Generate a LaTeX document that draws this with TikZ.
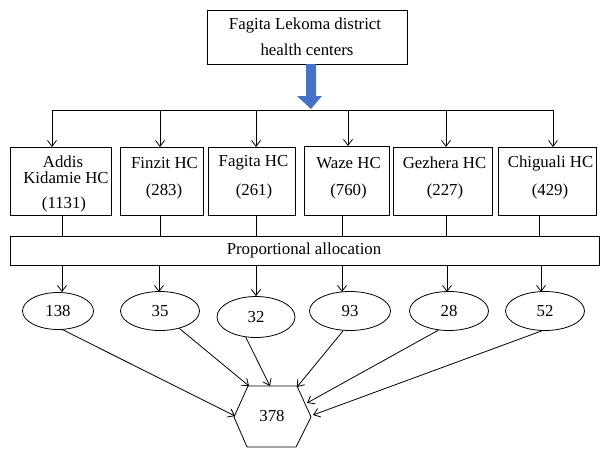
\documentclass[tikz,border=0pt]{standalone}
\usepackage{fontspec}
\setmainfont{Liberation Serif}
\usetikzlibrary{arrows.meta,shapes.geometric,calc}
\definecolor{arrowblue}{HTML}{4472C4}
\tikzset{
  box/.style={draw, line width=0.9pt, inner sep=0pt, anchor=north west},
  lbl/.style={inner sep=0pt, font=\fontsize{16.8}{19}\selectfont},
  ell/.style={draw, ellipse, line width=0.8pt, inner sep=0pt, font=\fontsize{16.8}{19}\selectfont},
  conn/.style={line width=0.8pt},
  arr/.style={line width=0.8pt, -{Straight Barb[length=6pt,width=9pt]}},
}
\begin{document}
\begin{tikzpicture}[x=1pt,y=-1pt]
\useasboundingbox (0,0) rectangle (610,458);
% top box
\node[box, minimum width=200pt, minimum height=54pt] (top) at (207,10) {};
\node[lbl] (topt1) at (305,25) {Fagita Lekoma district};
\node[lbl] (topt2) at (307,50) {health centers};
% blue arrow
\fill[arrowblue] (306,64) -- (316,64) -- (316,96) -- (322,96) -- (311,109) -- (297,96) -- (306,96) -- cycle;
% bus
\coordinate (busL) at (52,110);
\coordinate (busR) at (553,110);
\coordinate (bus2) at (160,110);
\coordinate (bus3) at (256,110);
\coordinate (bus4) at (348,110);
\coordinate (bus5) at (446,110);
\draw[conn] (busL) -- (busR);
% boxes
\node[box, minimum width=101pt, minimum height=68pt] (b1) at (10,147) {};
\node[box, minimum width=83pt, minimum height=68pt] (b2) at (120,147) {};
\node[box, minimum width=87pt, minimum height=68pt] (b3) at (208,147) {};
\node[box, minimum width=85pt, minimum height=69pt] (b4) at (304,146) {};
\node[box, minimum width=99pt, minimum height=68pt] (b5) at (393,147) {};
\node[box, minimum width=98pt, minimum height=68pt] (b6) at (498,147) {};
% box texts
\node[lbl] (b1a) at (63,162) {Addis};
\node[lbl] (b1b) at (66,178) {Kidamie HC};
\node[lbl] (b1c) at (64,204) {(1131)};
\node[lbl] (b2a) at (164.5,163) {Finzit HC};
\node[lbl] (b2b) at (164,191) {(283)};
\node[lbl] (b3a) at (253.5,163) {Fagita HC};
\node[lbl] (b3b) at (254,191) {(261)};
\node[lbl] (b4a) at (348.5,163) {Waze HC};
\node[lbl] (b4b) at (348.5,191) {(760)};
\node[lbl] (b5a) at (444.5,163) {Gezhera HC};
\node[lbl] (b5b) at (445,191) {(227)};
\node[lbl] (b6a) at (550.5,163) {Chiguali HC};
\node[lbl] (b6b) at (550,191) {(429)};
% arrows from bus to boxes
\draw[arr] (busL) -- (busL |- b1.north);
\draw[arr] (bus2) -- (bus2 |- b2.north);
\draw[arr] (bus3) -- (bus3 |- b3.north);
\draw[arr] (bus4) -- (bus4 |- b4.north);
\draw[arr] (bus5) -- (bus5 |- b5.north);
\draw[arr] (busR) -- (busR |- b6.north);
% proportional allocation
\node[box, minimum width=589pt, minimum height=29pt] (pa) at (10,236) {};
\node[lbl] (pat) at (304,250) {Proportional allocation};
% connectors boxes to pa
\draw[conn] (b1.south -| 62,0) -- (pa.north -| 62,0);
\draw[conn] (b2.south -| 160,0) -- (pa.north -| 160,0);
\draw[conn] (b3.south -| 256,0) -- (pa.north -| 256,0);
\draw[conn] (b4.south -| 342,0) -- (pa.north -| 342,0);
\draw[conn] (b5.south -| 446,0) -- (pa.north -| 446,0);
\draw[conn] (b6.south -| 539,0) -- (pa.north -| 539,0);
% ellipses
\node[ell, minimum width=71pt, minimum height=37pt] (e1) at (58,311) {138};
\node[ell, minimum width=79pt, minimum height=39pt] (e2) at (160,311) {35};
\node[ell, minimum width=78pt, minimum height=41pt] (e3) at (256,317) {32};
\node[ell, minimum width=81pt, minimum height=39pt] (e4) at (350,311) {93};
\node[ell, minimum width=79pt, minimum height=39pt] (e5) at (449,311) {28};
\node[ell, minimum width=79pt, minimum height=39pt] (e6) at (545,311) {52};
% arrows pa to ellipses
\draw[arr] (pa.south -| 62,0) -- (62,292);
\draw[arr] (pa.south -| 159,0) -- (159,292);
\draw[arr] (pa.south -| 256,0) -- (e3.north);
\draw[arr] (pa.south -| 342,0) -- (342,292);
\draw[arr] (pa.south -| 447,0) -- (447,292);
\draw[arr] (pa.south -| 541,0) -- (541,292);
% hexagon
\draw[line width=0.8pt] (248,386) -- (297,386) -- (311,417) -- (296,447) -- (247,447) -- (234,417) -- cycle;
\node[lbl] (hex) at (272,416) {378};
\coordinate (h1) at (235,416);
\coordinate (h2) at (249,386);
\coordinate (h3) at (270,386);
\coordinate (h4) at (297,387);
\coordinate (h5) at (307,403);
\coordinate (h6) at (313,415);
\draw[arr] (e1.-76) -- (h1);
\draw[arr] (e2.-42) -- (h2);
\draw[arr] (e3.-117) -- (h3);
\draw[arr] (e4.-109) -- (h4);
\draw[arr] (e5.-119) -- (h5);
\draw[arr] (e6.-99) -- (h6);
\end{tikzpicture}
\end{document}
